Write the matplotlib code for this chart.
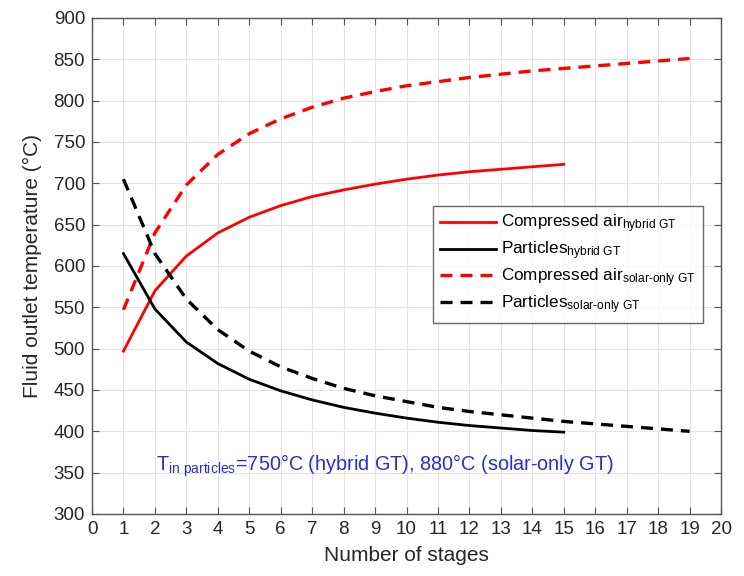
import matplotlib
matplotlib.use("Agg")
import matplotlib.pyplot as plt

plt.rcParams['font.family'] = ['Liberation Sans', 'DejaVu Sans']
plt.rcParams['mathtext.fontset'] = 'custom'
plt.rcParams['mathtext.rm'] = 'Liberation Sans'
plt.rcParams['mathtext.it'] = 'Liberation Sans'

stages_hybrid = [1, 2, 3, 4, 5, 6, 7, 8, 9, 10, 11, 12, 13, 14, 15]
stages_solar = [1, 2, 3, 4, 5, 6, 7, 8, 9, 10, 11, 12, 13, 14, 15, 16, 17, 18, 19]

air_hybrid = [497, 570, 612, 640, 659, 673, 684, 692, 699, 705, 710, 714, 717, 720, 723]
particles_hybrid = [615, 548, 508, 482, 463, 449, 438, 429, 422, 416, 411, 407, 404, 401, 399]
air_solar = [547, 640, 698, 735, 760, 778, 792, 803, 811, 818, 823, 828, 832, 836, 839, 842, 845, 848, 851]
particles_solar = [705, 615, 560, 523, 497, 478, 464, 452, 443, 436, 429, 424, 420, 416, 412, 409, 406, 403, 400]

labels = [r'Compressed air$_{\mathregular{hybrid\ GT}}$',
          r'Particles$_{\mathregular{hybrid\ GT}}$',
          r'Compressed air$_{\mathregular{solar\text{-}only\ GT}}$',
          r'Particles$_{\mathregular{solar\text{-}only\ GT}}$']

fig = plt.figure(figsize=(7.44, 5.76), dpi=100)
ax = fig.add_axes([92/744, 62/576, 629/744, 496/576])

ax.plot(stages_hybrid, air_hybrid, color='#ff0000', lw=2, label=labels[0])
ax.plot(stages_hybrid, particles_hybrid, color='black', lw=2, label=labels[1])
ax.plot(stages_solar, air_solar, color='#ff0000', lw=2.4, ls=(0, (3.6, 2.4)), label=labels[2])
ax.plot(stages_solar, particles_solar, color='black', lw=2.4, ls=(0, (3.6, 2.4)), label=labels[3])

ax.set_xlim(0, 20)
ax.set_ylim(300, 900)
ax.set_xticks(range(0, 21))
ax.set_yticks(range(300, 901, 50))
ax.grid(True, color='#e3e3e3', lw=0.8)
ax.set_axisbelow(True)
ax.tick_params(direction='in', top=True, right=True, labelsize=13.5, length=5,
               color='#555555', labelcolor='#262626', pad=5)
for s in ax.spines.values():
    s.set_color('#555555')
    s.set_linewidth(1)

ax.set_xlabel('Number of stages', fontsize=15, color='#262626', labelpad=6)
ax.set_ylabel('Fluid outlet temperature (°C)', fontsize=15, color='#262626', labelpad=8)

leg = ax.legend(loc='upper left', bbox_to_anchor=(0.542, 0.621), fontsize=12.3,
                frameon=True, fancybox=False, edgecolor='#444444', handlelength=3.3,
                borderpad=0.4, labelspacing=0.25, handletextpad=0.3, borderaxespad=0)
leg.get_frame().set_linewidth(1)

ax.text(2.05, 358, r'T$_{\mathregular{in\ particles}}$=750°C (hybrid GT), 880°C (solar-only GT)',
        color='#2b2bd9', fontsize=14.3, va='center', ha='left')

fig.savefig('out.png', dpi=100)
